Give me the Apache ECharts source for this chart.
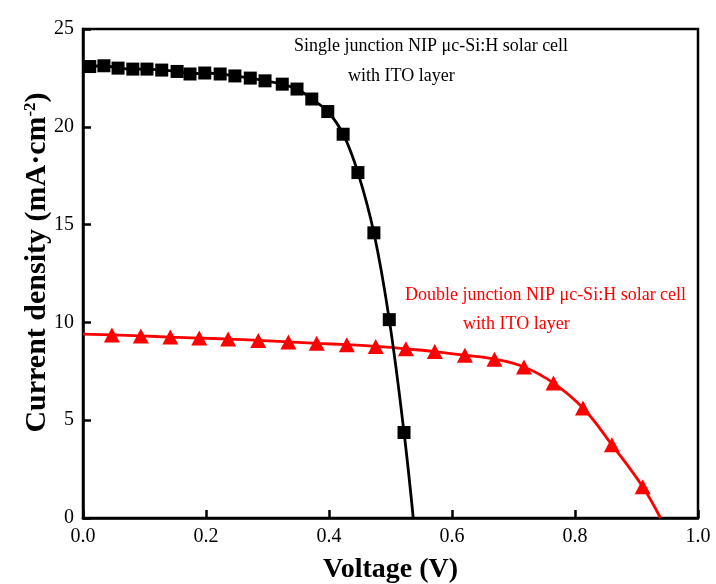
<!DOCTYPE html>
<html>
<head>
<meta charset="utf-8">
<script src="https://cdn.jsdelivr.net/npm/echarts@6/dist/echarts.min.js"></script>
<style>
  html, body { margin: 0; padding: 0; background: #fff; }
  #chart { width: 716px; height: 584px; }
</style>
</head>
<body>
<div id="chart"></div>
<script>
// J-V curves of NIP μc-Si:H solar cells with ITO layer

// Single junction cell: measured points (V, mA/cm²)
const singleVoltage = [0.011, 0.034, 0.057, 0.081, 0.104, 0.128, 0.153, 0.174, 0.198, 0.223, 0.247,
                       0.272, 0.296, 0.324, 0.348, 0.372, 0.398, 0.423, 0.447, 0.473, 0.498, 0.522];
const singleCurrent = [23.08, 23.12, 23.0, 22.95, 22.95, 22.9, 22.83, 22.7, 22.75, 22.7, 22.6,
                       22.49, 22.35, 22.18, 21.93, 21.42, 20.78, 19.62, 17.66, 14.58, 10.14, 4.37];
const singleVoc = 0.537;   // fitted curve reaches J = 0 here

// Double junction cell: measured points (V, mA/cm²)
const doubleVoltage = [0.047, 0.094, 0.142, 0.189, 0.236, 0.285, 0.334, 0.380, 0.429, 0.476,
                       0.525, 0.572, 0.621, 0.669, 0.717, 0.765, 0.813, 0.860, 0.910];
const doubleCurrent = [9.36, 9.31, 9.25, 9.2, 9.15, 9.08, 9.0, 8.93, 8.86, 8.77,
                       8.65, 8.51, 8.32, 8.12, 7.72, 6.9, 5.62, 3.74, 1.6];
const doubleJsc = 9.4;     // fitted curve at V = 0
const doubleVoc = 0.939;   // fitted curve reaches J = 0 here

const xTicks = [0.0, 0.2, 0.4, 0.6, 0.8, 1.0];
const yTicks = [0, 5, 10, 15, 20, 25];

const FONT = '"Liberation Serif", "Times New Roman", serif';

function pointsOf(vs, js) {
  return vs.map((v, i) => [v, js[i]]);
}

const singleData = pointsOf(singleVoltage, singleCurrent)
  .concat([{ value: [singleVoc, 0], symbol: 'none' }]);

const doubleData = [{ value: [0, doubleJsc], symbol: 'none' }]
  .concat(pointsOf(doubleVoltage, doubleCurrent))
  .concat([{ value: [doubleVoc, 0], symbol: 'none' }]);

const chart = echarts.init(document.getElementById('chart'), null, { renderer: 'canvas' });

const axisCommon = {
  axisLine: { show: true, lineStyle: { color: '#000', width: 2.5 } },
  axisTick: { show: true, inside: true, length: 8, lineStyle: { color: '#000', width: 2.5 } },
  splitLine: { show: false },
  axisLabel: { color: '#000', fontFamily: FONT, fontSize: 20 }
};

chart.setOption({
  backgroundColor: '#fff',
  animation: false,
  grid: {
    left: 83, right: 18, top: 29, bottom: 66,
    outerBoundsMode: 'none',
    containLabel: false,
    show: true, borderColor: '#000', borderWidth: 2.5, backgroundColor: 'transparent'
  },
  xAxis: Object.assign({}, axisCommon, {
    type: 'value',
    min: xTicks[0], max: xTicks[xTicks.length - 1], interval: 0.2,
    name: 'Voltage (V)',
    nameLocation: 'middle',
    nameGap: 38,
    nameTextStyle: { color: '#000', fontFamily: FONT, fontSize: 28, fontWeight: 'bold' },
    axisLabel: Object.assign({}, axisCommon.axisLabel, {
      margin: 9,
      formatter: v => v.toFixed(1)
    })
  }),
  yAxis: Object.assign({}, axisCommon, {
    type: 'value',
    min: yTicks[0], max: yTicks[yTicks.length - 1], interval: 5,
    name: '{t|Current density (mA·cm}{s|-2}{t|)}',
    nameLocation: 'middle',
    nameGap: 31,
    nameMoveOverlap: false,
    nameTextStyle: {
      color: '#000', fontFamily: FONT, fontSize: 30, fontWeight: 'bold',
      padding: [0, 0, 0, 22],
      rich: {
        t: { fontFamily: FONT, fontSize: 30, fontWeight: 'bold', color: '#000' },
        s: { fontFamily: FONT, fontSize: 17, fontWeight: 'bold', color: '#000', verticalAlign: 'top', padding: [0, 0, 13, 0] }
      }
    },
    axisLabel: Object.assign({}, axisCommon.axisLabel, { margin: 9 })
  }),
  series: [
    {
      name: 'Single junction',
      type: 'line',
      data: singleData,
      smooth: 0.4,
      symbol: 'rect',
      symbolSize: 13,
      showAllSymbol: true,
      lineStyle: { color: '#000', width: 2.8 },
      itemStyle: { color: '#000' },
      z: 3
    },
    {
      name: 'Double junction',
      type: 'line',
      data: doubleData,
      smooth: 0.4,
      symbol: 'triangle',
      symbolSize: [16, 15],
      showAllSymbol: true,
      lineStyle: { color: '#ff0000', width: 2.8 },
      itemStyle: { color: '#ff0000' },
      z: 2
    }
  ],
  graphic: [
    { type: 'text', left: 294, top: 37, style: { text: 'Single junction NIP μc-Si:H solar cell', font: '18px ' + FONT, fill: '#000' } },
    { type: 'text', left: 348, top: 67, style: { text: 'with ITO layer', font: '18px ' + FONT, fill: '#000' } },
    { type: 'text', left: 405, top: 286, style: { text: 'Double junction NIP μc-Si:H solar cell', font: '18px ' + FONT, fill: '#ff0000' } },
    { type: 'text', left: 463, top: 315, style: { text: 'with ITO layer', font: '18px ' + FONT, fill: '#ff0000' } }
  ]
});
</script>
</body>
</html>
